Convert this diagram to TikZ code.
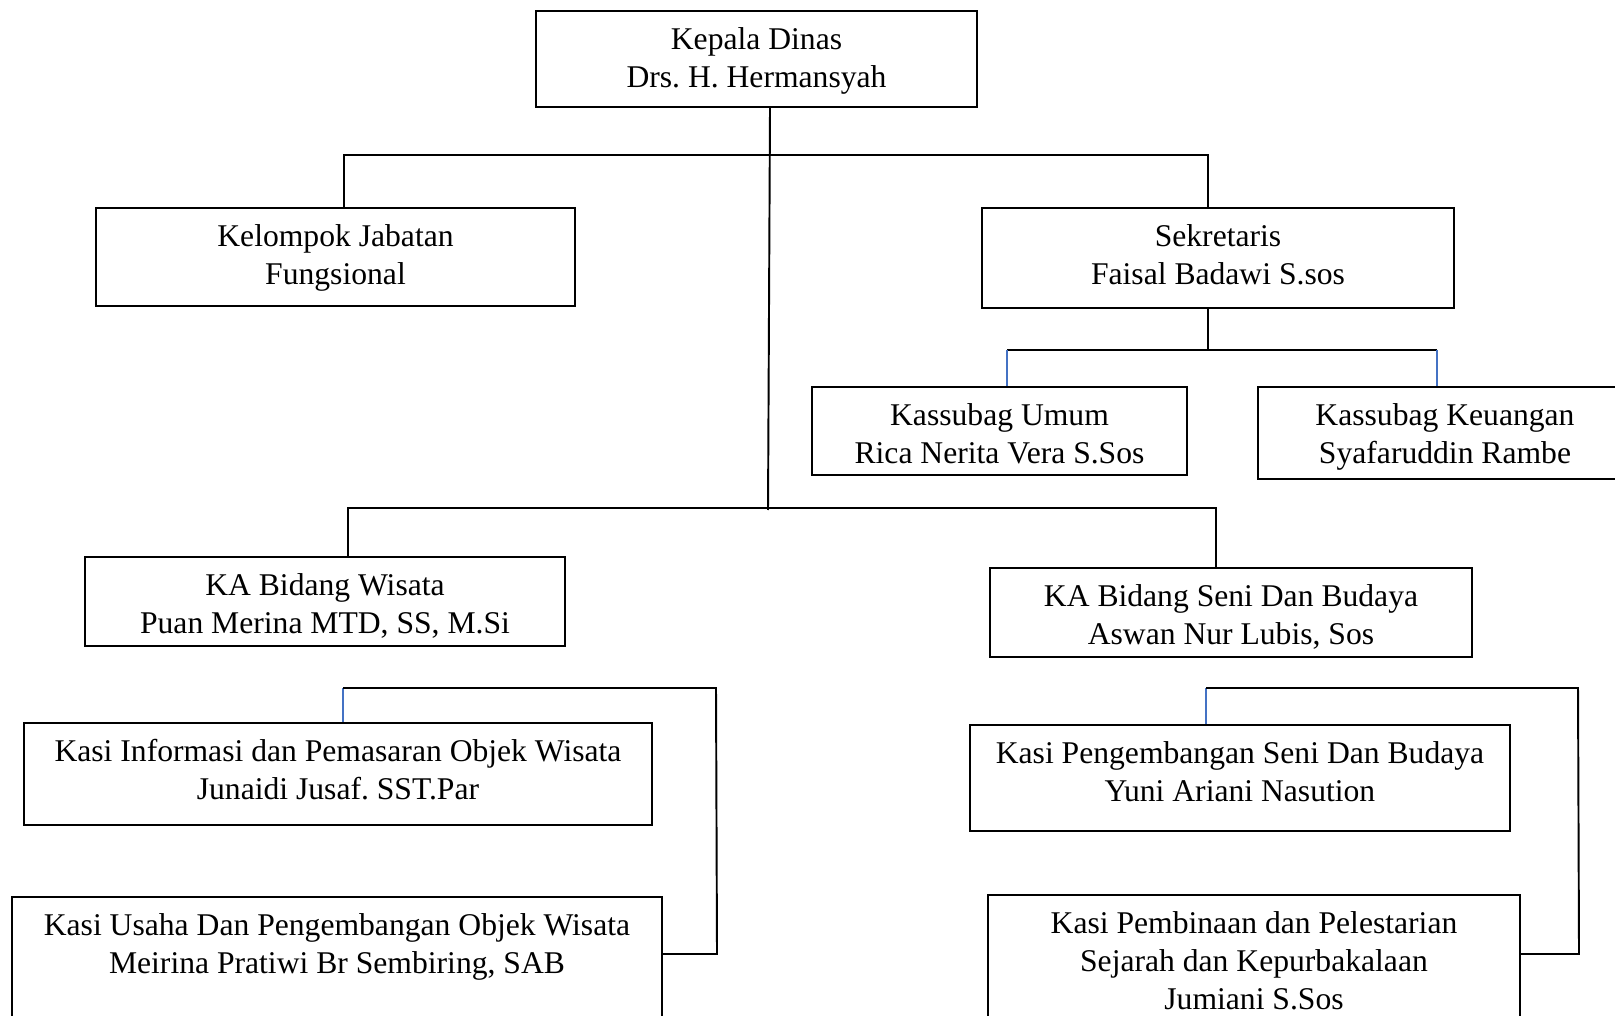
\documentclass[tikz,border=0pt]{standalone}
\usepackage{fontspec}
\setmainfont{Liberation Serif}
\frenchspacing
\definecolor{wordblue}{RGB}{68,114,196}
\tikzset{
    box/.style={draw, line width=1.1pt, align=center, inner sep=0pt,
        anchor=north, text height=43.4pt, text depth=#1,
        font=\fontsize{18pt}{21.6pt}\selectfont},
    box/.default=3cm,
    link/.style={line width=1.1pt},
    sublink/.style={draw=wordblue, line width=0.7pt}
}
\begin{document}
\begin{tikzpicture}[x=0.02cm, y=-0.02cm]
        \fill[white] (0,0) rectangle (1615,1016);
        \useasboundingbox (0,0) rectangle (1615,1016);
        \clip (0,0) rectangle (1615,1016);

        % Kepala Dinas
        \node[box=11.2pt, minimum width=8.82cm] (kadis) at (756.5,10) {
            Kepala Dinas\\
            Drs. H. Hermansyah
        };

        % staf di bawah kepala dinas
        \node[box=12.4pt, minimum width=9.58cm] (jabfung) at (335.5,207) {
            Kelompok Jabatan\\
            Fungsional
        };
        \node[box=13.5pt, minimum width=9.44cm] (sekre) at (1218,207) {
            Sekretaris\\
            Faisal Badawi S.sos
        };

        % subbagian sekretariat
        \node[box=6.7pt, minimum width=7.5cm] (umum) at (999.5,386) {
            Kassubag Umum\\
            Rica Nerita Vera S.Sos
        };
        \node[box=8.9pt, minimum width=7.48cm] (keu) at (1445,386) {
            Kassubag Keuangan\\
            Syafaruddin Rambe
        };

        % bidang
        \node[box=7.2pt, minimum width=9.6cm] (wisata) at (325,556) {
            KA Bidang Wisata\\
            Puan Merina MTD, SS, M.Si
        };
        \node[box=7.2pt, minimum width=9.64cm] (seni) at (1231,567) {
            KA Bidang Seni Dan Budaya\\
            Aswan Nur Lubis, Sos
        };

        % seksi bidang wisata
        \node[box=14.6pt, minimum width=12.56cm] (info) at (338,722) {
            Kasi Informasi dan Pemasaran Objek Wisata\\
            Junaidi Jusaf. SST.Par
        };
        \node[box, minimum width=13cm] (usaha) at (337,896) {
            Kasi Usaha Dan Pengembangan Objek Wisata\\
            Meirina Pratiwi Br Sembiring, SAB
        };

        % seksi bidang seni dan budaya
        \node[box=16.9pt, minimum width=10.8cm] (kembang) at (1240,724) {
            Kasi Pengembangan Seni Dan Budaya\\
            Yuni Ariani Nasution
        };
        \node[box, text height=65pt, minimum width=10.64cm] (bina) at (1254,894) {
            Kasi Pembinaan dan Pelestarian\\
            Sejarah dan Kepurbakalaan\\
            Jumiani S.Sos
        };

        % garis dari kepala dinas
        \coordinate (trunk) at (770,155);
        \coordinate (trunkend) at (768,510);
        \coordinate (ja) at (344,155);
        \coordinate (jb) at (1208,155);
        \draw[link] (kadis.south -| trunk) -- (trunkend);
        \draw[link] (jabfung.north -| ja) -- (ja) -- (jb) -- (sekre.north -| jb);

        % garis sekretariat
        \coordinate (sa) at (1007,350);
        \coordinate (sb) at (1437,350);
        \draw[link] (sekre.south -| jb) -- (sa -| jb);
        \draw[link] (sa) -- (sb);
        \draw[sublink] (sa) -- (umum.north -| sa);
        \draw[sublink] (sb) -- (keu.north -| sb);

        % garis ke bidang
        \coordinate (ba) at (348,508);
        \coordinate (bb) at (1216,508);
        \draw[link] (wisata.north -| ba) -- (ba) -- (bb) -- (seni.north -| bb);

        % garis seksi wisata
        \coordinate (wa) at (343,688);
        \coordinate (wb) at (716,688);
        \coordinate (wc) at (717,954);
        \draw[sublink] (wa) -- (info.north -| wa);
        \draw[link] (wa) -- (wb) -- (wc) -- (usaha.east |- wc);

        % garis seksi seni dan budaya
        \coordinate (ka) at (1206,688);
        \coordinate (kb) at (1578,688);
        \coordinate (kc) at (1579,954);
        \draw[sublink] (ka) -- (kembang.north -| ka);
        \draw[link] (ka) -- (kb) -- (kc) -- (bina.east |- kc);
    \end{tikzpicture}
\end{document}
